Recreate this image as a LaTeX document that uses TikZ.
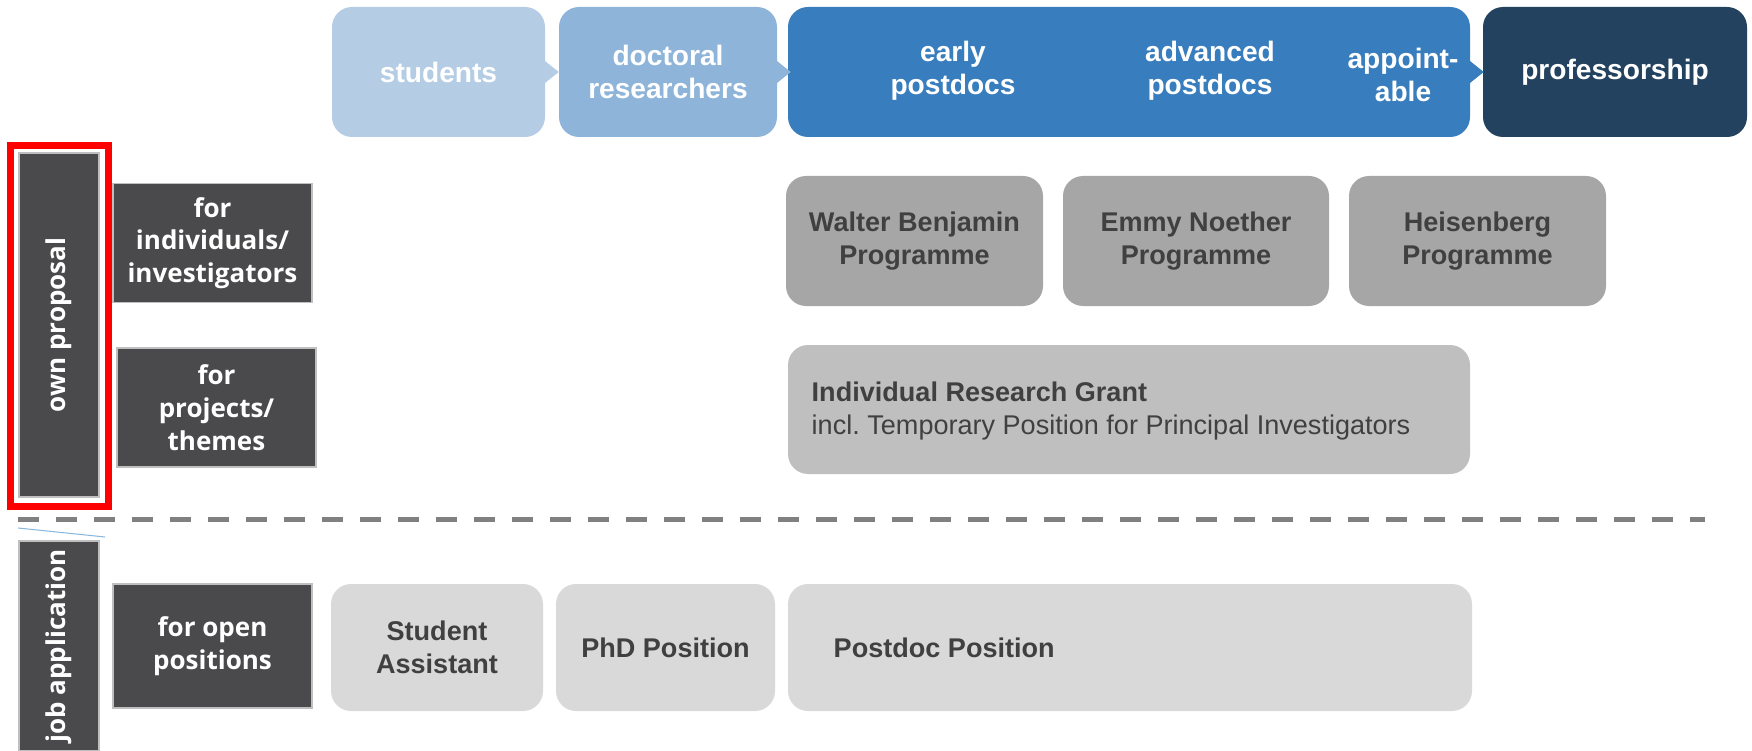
\documentclass[tikz,border=0pt]{standalone}
\usepackage{fontspec}
\setmainfont{Liberation Sans}
\newfontfamily\sidefont{Open Sans}
\definecolor{stud}{HTML}{B4CDE5}
\definecolor{doct}{HTML}{8EB4D9}
\definecolor{pdoc}{HTML}{387DBD}
\definecolor{prof}{HTML}{22425F}
\definecolor{progrey}{HTML}{A6A6A6}
\definecolor{grantgrey}{HTML}{BFBFBF}
\definecolor{posgrey}{HTML}{D9D9D9}
\definecolor{sidegrey}{HTML}{4A4A4C}
\definecolor{greytext}{HTML}{404040}
\definecolor{dashgrey}{HTML}{808080}
\definecolor{thinblue}{HTML}{8AB8DC}
\frenchspacing

\begin{document}
\begin{tikzpicture}[
    topbox/.style={rounded corners=0.2cm, minimum height=1.3cm, inner sep=0pt, text=white, font=\fontsize{8}{9.4}\selectfont\bfseries, align=center},
    toptext/.style={text=white, inner sep=0pt, font=\fontsize{8}{9.4}\selectfont\bfseries, align=center},
    greybox/.style={rounded corners=0.2cm, inner sep=0pt, text=greytext, font=\fontsize{7.7}{9.3}\selectfont\bfseries, align=center},
    sidebox/.style={fill=sidegrey, draw=black!25, line width=0.4pt, inner sep=0pt, text=white, font=\sidefont\fontsize{7.4}{9.3}\selectfont\bfseries, align=center}
  ]
    \useasboundingbox (0,0) rectangle (17.52,7.5);

    \node[topbox, fill=stud, minimum width=2.13cm] (students) at (4.385,6.78) {students};
    \node[topbox, fill=doct, minimum width=2.18cm] (doctoral) at (6.68,6.78) {doctoral\\researchers};
    \node[topbox, fill=pdoc, minimum width=6.82cm] (postdocs) at (11.29,6.78) {};
    \node[topbox, fill=prof, minimum width=2.64cm] (prof) at (16.15,6.78) {professorship};
    \foreach \n/\c in {students/stud,doctoral/doct,postdocs/pdoc} {
        \fill[\c] ([xshift=-0.02cm]\n.east) ++(0,0.12) -- ++(0.15,-0.12) -- ++(-0.15,-0.12) -- cycle;
    }
    \node[toptext] (early) at (9.53,6.79) {early\\postdocs};
    \node[toptext] (advanced) at (12.10,6.79) {advanced\\postdocs};
    \node[toptext] (appointable) at (14.03,6.75) {appoint-\\able};

    \node[sidebox, rotate=90, minimum width=3.44cm, minimum height=0.8cm] (own) at (0.59,4.25) {own proposal};
    \draw[red, line width=0.07cm] (0.105,2.435) rectangle (1.085,6.045);
    \node[sidebox, minimum width=1.99cm, minimum height=1.19cm] (individuals) at (2.125,5.07) {for\\individuals/\\investigators};
    \node[sidebox, minimum width=1.99cm, minimum height=1.19cm] (projects) at (2.165,3.425) {for\\projects/\\themes};
    \node[sidebox, rotate=90, minimum width=2.1cm, minimum height=0.8cm] (job) at (0.59,1.04) {job application};
    \node[sidebox, minimum width=1.99cm, minimum height=1.24cm] (open) at (2.125,1.04) {for open\\positions};

    \node[greybox, fill=progrey, minimum width=2.57cm, minimum height=1.3cm] (benjamin) at (9.145,5.09) {Walter Benjamin\\Programme};
    \node[greybox, fill=progrey, minimum width=2.66cm, minimum height=1.3cm] (noether) at (11.96,5.09) {Emmy Noether\\Programme};
    \node[greybox, fill=progrey, minimum width=2.57cm, minimum height=1.3cm] (heisenberg) at (14.775,5.09) {Heisenberg\\Programme};
    \node[greybox, fill=grantgrey, minimum width=6.82cm, minimum height=1.29cm] (grant) at (11.29,3.405) {};
    \node[greybox, anchor=west, align=left] (granttext) at (8.11,3.39) {Individual Research Grant\\\mdseries incl. Temporary Position for Principal Investigators};

    \draw[dashgrey, line width=0.05cm, dash pattern=on 0.21cm off 0.17cm] (0.18,2.31) -- (17.05,2.31);
    \draw[thinblue, line width=0.3pt] (0.18,2.22) -- (1.05,2.13);

    \node[greybox, fill=posgrey, minimum width=2.12cm, minimum height=1.27cm] (assistant) at (4.37,1.025) {Student\\Assistant};
    \node[greybox, fill=posgrey, minimum width=2.19cm, minimum height=1.27cm] (phd) at (6.655,1.025) {PhD Position};
    \node[greybox, fill=posgrey, minimum width=6.84cm, minimum height=1.27cm] (postdoc) at (11.30,1.025) {};
    \node[greybox, anchor=west] (postdoctext) at (8.33,1.025) {Postdoc Position};
\end{tikzpicture}
\end{document}
